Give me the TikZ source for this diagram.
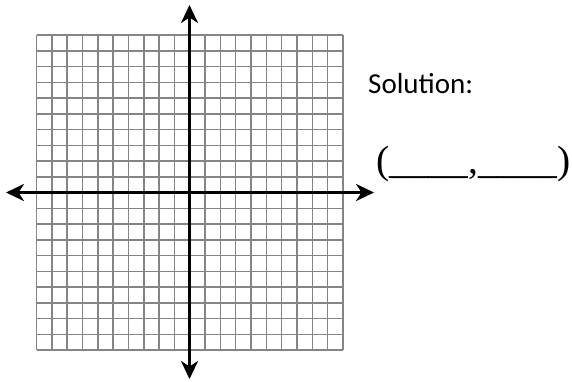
\documentclass[tikz,border=0pt]{standalone}
\usepackage{fontspec}
\setmainfont{Liberation Serif}
\newfontfamily\solfont{Carlito}
\usetikzlibrary{arrows.meta}
\begin{document}
\begin{tikzpicture}[x=1pt,y=-1pt,
  gridline/.style={draw=black!48, line width=1.5pt},
  axisline/.style={line width=3.8pt, black, {Stealth[length=18pt,width=17pt,inset=5.5pt]}-{Stealth[length=18pt,width=17pt,inset=5.5pt]}},
  txt/.style={anchor=base west, inner sep=0pt}]
\useasboundingbox (0,0) rectangle (572,381);
\fill[white] (0,0) rectangle (572,381);
% grid 20 x 20
\foreach \i in {0,...,20}{
  \draw[gridline] ({36.5+\i*15.325},35) -- ({36.5+\i*15.325},350);
  \draw[gridline] (36.5,{35+\i*15.75}) -- (343,{35+\i*15.75});
}
\coordinate (top) at (189.5,5);
\coordinate (bot) at (189.5,379);
\coordinate (lft) at (6,192.5);
\coordinate (rgt) at (374,192.5);
\draw[axisline] (bot) -- (top);
\draw[axisline] (lft) -- (rgt);
\node[txt] (sol) at (368,93) {\fontsize{29pt}{29pt}\selectfont\solfont Solution:};
\node[txt] (ans) at (376,173.5) {\fontsize{39.5pt}{39.5pt}\selectfont (\_\_\_\_,\_\_\_\_)};
\end{tikzpicture}
\end{document}
